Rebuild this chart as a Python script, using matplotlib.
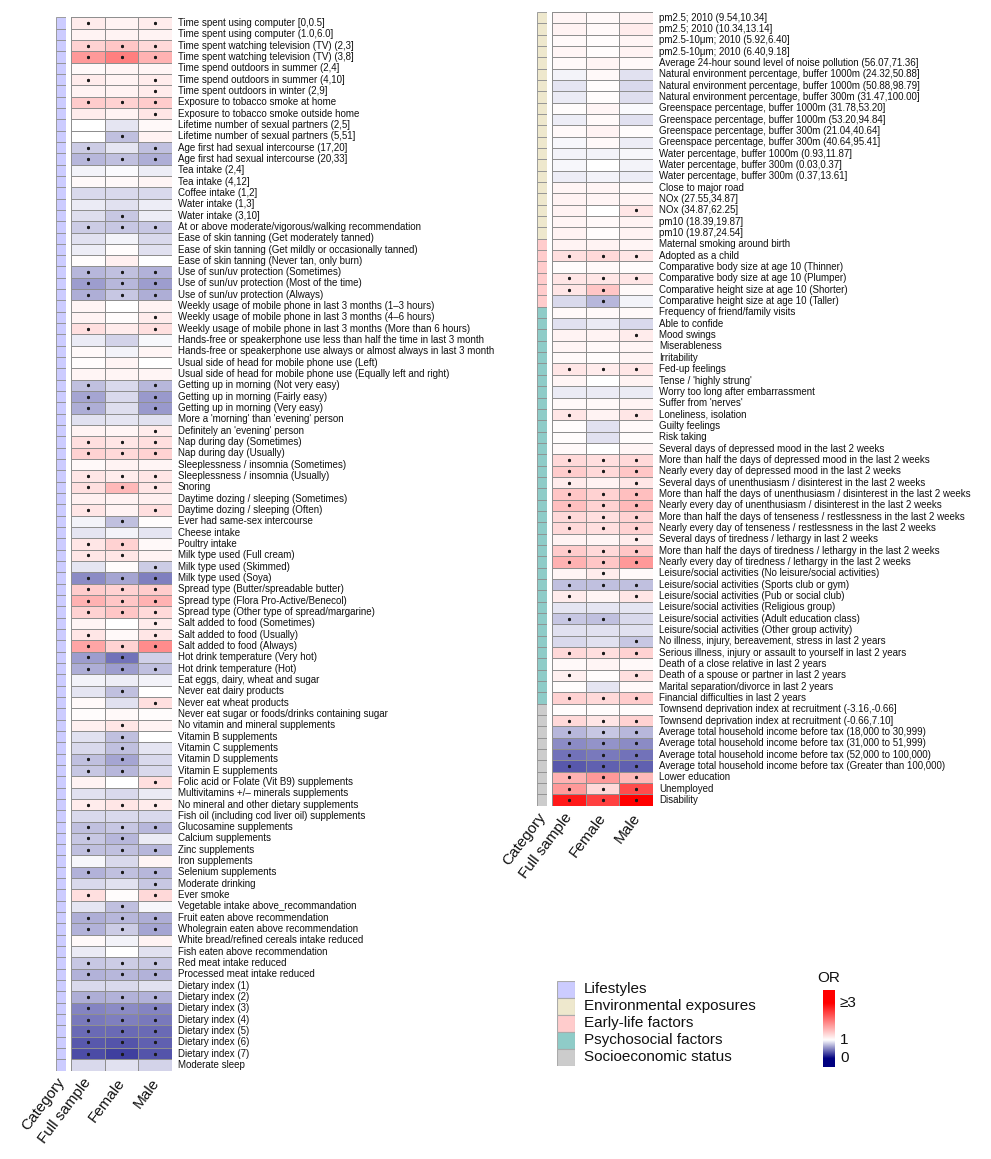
import numpy as np
import matplotlib
matplotlib.use("Agg")
import matplotlib.pyplot as plt
from matplotlib.colors import LinearSegmentedColormap, Normalize
from matplotlib.patches import Rectangle
import matplotlib.transforms as mtransforms

plt.rcParams['font.family'] = ['Liberation Sans', 'DejaVu Sans']

# ---------------- data: Lifestyles panel ----------------
life_labels = [
    "Time spent using computer [0,0.5]",
    "Time spent using computer (1.0,6.0]",
    "Time spent watching television (TV) (2,3]",
    "Time spent watching television (TV) (3,8]",
    "Time spend outdoors in summer (2,4]",
    "Time spend outdoors in summer (4,10]",
    "Time spent outdoors in winter (2,9]",
    "Exposure to tobacco smoke at home",
    "Exposure to tobacco smoke outside home",
    "Lifetime number of sexual partners (2,5]",
    "Lifetime number of sexual partners (5,51]",
    "Age first had sexual intercourse (17,20]",
    "Age first had sexual intercourse (20,33]",
    "Tea intake (2,4]",
    "Tea intake (4,12]",
    "Coffee intake (1,2]",
    "Water intake (1,3]",
    "Water intake (3,10]",
    "At or above moderate/vigorous/walking recommendation",
    "Ease of skin tanning (Get moderately tanned)",
    "Ease of skin tanning (Get mildly or occasionally tanned)",
    "Ease of skin tanning (Never tan, only burn)",
    "Use of sun/uv protection (Sometimes)",
    "Use of sun/uv protection (Most of the time)",
    "Use of sun/uv protection (Always)",
    "Weekly usage of mobile phone in last 3 months (1\u20133 hours)",
    "Weekly usage of mobile phone in last 3 months (4\u20136 hours)",
    "Weekly usage of mobile phone in last 3 months (More than 6 hours)",
    "Hands-free or speakerphone use less than half the time in last 3 month",
    "Hands-free or speakerphone use always or almost always in last 3 month",
    "Usual side of head for mobile phone use (Left)",
    "Usual side of head for mobile phone use (Equally left and right)",
    "Getting up in morning (Not very easy)",
    "Getting up in morning (Fairly easy)",
    "Getting up in morning (Very easy)",
    "More a 'morning' than 'evening' person",
    "Definitely an 'evening' person",
    "Nap during day (Sometimes)",
    "Nap during day (Usually)",
    "Sleeplessness / insomnia (Sometimes)",
    "Sleeplessness / insomnia (Usually)",
    "Snoring",
    "Daytime dozing / sleeping (Sometimes)",
    "Daytime dozing / sleeping (Often)",
    "Ever had same-sex intercourse",
    "Cheese intake",
    "Poultry intake",
    "Milk type used (Full cream)",
    "Milk type used (Skimmed)",
    "Milk type used (Soya)",
    "Spread type (Butter/spreadable butter)",
    "Spread type (Flora Pro-Active/Benecol)",
    "Spread type (Other type of spread/margarine)",
    "Salt added to food (Sometimes)",
    "Salt added to food (Usually)",
    "Salt added to food (Always)",
    "Hot drink temperature (Very hot)",
    "Hot drink temperature (Hot)",
    "Eat eggs, dairy, wheat and sugar",
    "Never eat dairy products",
    "Never eat wheat products",
    "Never eat sugar or foods/drinks containing sugar",
    "No vitamin and mineral supplements",
    "Vitamin B supplements",
    "Vitamin C supplements",
    "Vitamin D supplements",
    "Vitamin E supplements",
    "Folic acid or Folate (Vit B9) supplements",
    "Multivitamins +/\u2013 minerals supplements",
    "No mineral and other dietary supplements",
    "Fish oil (including cod liver oil) supplements",
    "Glucosamine supplements",
    "Calcium supplements",
    "Zinc supplements",
    "Iron supplements",
    "Selenium supplements",
    "Moderate drinking",
    "Ever smoke",
    "Vegetable intake above_recommandation",
    "Fruit eaten above recommendation",
    "Wholegrain eaten above recommendation",
    "White bread/refined cereals intake reduced",
    "Fish eaten above recommendation",
    "Red meat intake reduced",
    "Processed meat intake reduced",
    "Dietary index (1)",
    "Dietary index (2)",
    "Dietary index (3)",
    "Dietary index (4)",
    "Dietary index (5)",
    "Dietary index (6)",
    "Dietary index (7)",
    "Moderate sleep",
]
life_full = [1.15, 1.10, 1.35, 1.80, 1.05, 1.15, 1.10, 1.40, 1.15, 1.00,
             1.00, 0.80, 0.72, 0.95, 1.05, 0.85, 0.92, 0.87, 0.80, 0.88,
             0.93, 1.03, 0.72, 0.62, 0.68, 1.08, 1.10, 1.25, 0.92, 1.05,
             1.03, 1.08, 0.75, 0.65, 0.68, 0.88, 1.10, 1.25, 1.35, 1.05,
             1.20, 1.25, 1.12, 1.20, 0.95, 0.90, 1.20, 1.20, 0.90, 0.55,
             1.40, 1.60, 1.35, 1.08, 1.20, 1.70, 0.62, 0.68, 0.95, 0.90,
             1.05, 1.03, 1.12, 0.88, 0.85, 0.75, 0.78, 1.10, 0.88, 1.15,
             0.85, 0.75, 0.78, 0.75, 0.97, 0.70, 0.85, 1.25, 0.90, 0.68,
             0.70, 1.05, 0.92, 0.78, 0.70, 0.85, 0.68, 0.52, 0.48, 0.42,
             0.35, 0.30, 0.85]
life_female = [1.10, 1.10, 1.45, 2.00, 1.08, 1.10, 1.10, 1.35, 1.10, 0.90,
               0.75, 0.90, 0.75, 0.98, 1.05, 0.85, 0.88, 0.78, 0.78, 0.95,
               1.03, 1.12, 0.75, 0.72, 0.78, 1.00, 1.03, 1.15, 0.83, 0.95,
               1.08, 1.08, 0.85, 0.85, 0.87, 0.90, 1.08, 1.20, 1.30, 1.10,
               1.15, 1.55, 1.10, 1.10, 0.75, 0.95, 1.35, 1.20, 1.02, 0.65,
               1.35, 1.45, 1.45, 1.00, 1.05, 1.35, 0.45, 0.62, 0.93, 0.75,
               0.88, 1.05, 1.20, 0.75, 0.75, 0.65, 0.72, 1.00, 0.85, 1.20,
               0.85, 0.78, 0.72, 0.75, 0.85, 0.75, 0.88, 1.03, 0.75, 0.72,
               0.80, 0.95, 1.00, 0.80, 0.72, 0.85, 0.70, 0.55, 0.50, 0.42,
               0.33, 0.25, 0.88]
life_male = [1.15, 1.10, 1.30, 1.60, 1.08, 1.15, 1.15, 1.40, 1.20, 1.05,
             1.10, 0.75, 0.68, 0.93, 1.08, 0.85, 0.93, 0.93, 0.78, 0.85,
             0.88, 1.00, 0.70, 0.62, 0.68, 1.10, 1.15, 1.25, 0.97, 1.08,
             1.00, 1.08, 0.72, 0.60, 0.60, 0.88, 1.15, 1.25, 1.35, 1.08,
             1.20, 1.20, 1.12, 1.25, 1.03, 0.90, 1.05, 1.10, 0.80, 0.50,
             1.40, 1.60, 1.30, 1.15, 1.20, 1.90, 0.82, 0.75, 0.95, 1.00,
             1.25, 1.03, 1.10, 1.00, 0.90, 0.85, 0.85, 1.25, 0.92, 1.15,
             0.85, 0.72, 0.92, 0.72, 1.08, 0.72, 0.78, 1.30, 0.97, 0.68,
             0.65, 1.10, 0.88, 0.78, 0.70, 0.88, 0.70, 0.52, 0.48, 0.42,
             0.38, 0.33, 0.83]
life_sig = ["101", "000", "111", "111", "000", "101", "001", "111", "001", "000",
            "010", "101", "111", "000", "000", "000", "000", "010", "111", "000",
            "000", "000", "111", "111", "111", "000", "001", "101", "000", "000",
            "000", "000", "101", "101", "101", "000", "001", "111", "111", "000",
            "111", "111", "000", "101", "010", "000", "110", "110", "001", "111",
            "111", "111", "111", "001", "101", "111", "110", "111", "000", "010",
            "001", "000", "010", "010", "010", "110", "110", "001", "000", "111",
            "000", "111", "110", "111", "000", "111", "001", "101", "010", "111",
            "111", "000", "000", "111", "111", "000", "111", "111", "111", "111",
            "111", "111", "000"]
life_cat = ["Lifestyles"] * len(life_labels)

# ---------------- data: other categories panel ----------------
other_labels = [
    "pm2.5; 2010 (9.54,10.34]",
    "pm2.5; 2010 (10.34,13.14]",
    "pm2.5-10\u03bcm; 2010 (5.92,6.40]",
    "pm2.5-10\u03bcm; 2010 (6.40,9.18]",
    "Average 24-hour sound level of noise pollution (56.07,71.36]",
    "Natural environment percentage, buffer 1000m (24.32,50.88]",
    "Natural environment percentage, buffer 1000m (50.88,98.79]",
    "Natural environment percentage, buffer 300m (31.47,100.00]",
    "Greenspace percentage, buffer 1000m (31.78,53.20]",
    "Greenspace percentage, buffer 1000m (53.20,94.84]",
    "Greenspace percentage, buffer 300m (21.04,40.64]",
    "Greenspace percentage, buffer 300m (40.64,95.41]",
    "Water percentage, buffer 1000m (0.93,11.87]",
    "Water percentage, buffer 300m (0.03,0.37]",
    "Water percentage, buffer 300m (0.37,13.61]",
    "Close to major road",
    "NOx (27.55,34.87]",
    "NOx (34.87,62.25]",
    "pm10 (18.39,19.87]",
    "pm10 (19.87,24.54]",
    "Maternal smoking around birth",
    "Adopted as a child",
    "Comparative body size at age 10 (Thinner)",
    "Comparative body size at age 10 (Plumper)",
    "Comparative height size at age 10 (Shorter)",
    "Comparative height size at age 10 (Taller)",
    "Frequency of friend/family visits",
    "Able to confide",
    "Mood swings",
    "Miserableness",
    "Irritability",
    "Fed-up feelings",
    "Tense / 'highly strung'",
    "Worry too long after embarrassment",
    "Suffer from 'nerves'",
    "Loneliness, isolation",
    "Guilty feelings",
    "Risk taking",
    "Several days of depressed mood in the last 2 weeks",
    "More than half the days of depressed mood in the last 2 weeks",
    "Nearly every day of depressed mood in the last 2 weeks",
    "Several days of unenthusiasm / disinterest in the last 2 weeks",
    "More than half the days of unenthusiasm / disinterest in the last 2 weeks",
    "Nearly every day of unenthusiasm / disinterest in the last 2 weeks",
    "More than half the days of tenseness / restlessness in the last 2 weeks",
    "Nearly every day of tenseness / restlessness in the last 2 weeks",
    "Several days of tiredness / lethargy in last 2 weeks",
    "More than half the days of tiredness / lethargy in the last 2 weeks",
    "Nearly every day of tiredness / lethargy in the last 2 weeks",
    "Leisure/social activities (No leisure/social activities)",
    "Leisure/social activities (Sports club or gym)",
    "Leisure/social activities (Pub or social club)",
    "Leisure/social activities (Religious group)",
    "Leisure/social activities (Adult education class)",
    "Leisure/social activities (Other group activity)",
    "No illness, injury, bereavement, stress in last 2 years",
    "Serious illness, injury or assault to yourself in last 2 years",
    "Death of a close relative in last 2 years",
    "Death of a spouse or partner in last 2 years",
    "Marital separation/divorce in last 2 years",
    "Financial difficulties in last 2 years",
    "Townsend deprivation index at recruitment (-3.16,-0.66]",
    "Townsend deprivation index at recruitment (-0.66,7.10]",
    "Average total household income before tax (18,000 to 30,999)",
    "Average total household income before tax (31,000 to 51,999)",
    "Average total household income before tax (52,000 to 100,000)",
    "Average total household income before tax (Greater than 100,000)",
    "Lower education",
    "Unemployed",
    "Disability",
]
other_full = [1.08, 1.10, 1.05, 1.08, 1.05, 0.95, 0.90, 0.92, 1.02, 0.93,
              1.05, 0.97, 0.95, 0.97, 0.93, 1.08, 1.10, 1.10, 1.08, 1.10,
              1.10, 1.25, 1.03, 1.20, 1.20, 0.85, 1.05, 0.88, 1.10, 1.08,
              1.05, 1.20, 1.08, 0.92, 1.05, 1.20, 1.02, 1.02, 1.05, 1.30,
              1.40, 1.15, 1.45, 1.50, 1.30, 1.30, 1.10, 1.40, 1.60, 1.08,
              0.75, 1.15, 0.90, 0.78, 0.88, 0.85, 1.30, 1.05, 1.12, 1.02,
              1.35, 1.03, 1.30, 0.72, 0.55, 0.45, 0.35, 1.60, 1.80, 2.80]
other_female = [1.05, 1.05, 1.03, 1.03, 1.08, 1.05, 1.02, 1.03, 1.08, 1.05,
                1.10, 1.05, 0.95, 1.00, 0.95, 1.08, 1.08, 1.00, 1.05, 1.03,
                1.10, 1.30, 1.05, 1.20, 1.45, 0.72, 1.05, 0.92, 1.10, 1.05,
                1.03, 1.15, 1.00, 0.92, 1.05, 1.10, 0.88, 0.88, 1.00, 1.25,
                1.30, 1.10, 1.35, 1.35, 1.25, 1.25, 1.08, 1.30, 1.45, 1.15,
                0.75, 1.08, 0.90, 0.75, 0.88, 0.88, 1.25, 1.08, 1.03, 0.90,
                1.30, 1.03, 1.20, 0.78, 0.58, 0.48, 0.38, 1.80, 1.30, 2.50]
other_male = [1.10, 1.15, 1.08, 1.10, 1.05, 0.88, 0.85, 0.87, 0.98, 0.88,
              1.03, 0.93, 0.97, 0.95, 0.93, 1.05, 1.10, 1.20, 1.10, 1.10,
              1.08, 1.20, 1.03, 1.20, 1.05, 0.95, 1.05, 0.85, 1.15, 1.08,
              1.08, 1.20, 1.10, 0.92, 1.08, 1.20, 1.05, 1.03, 1.08, 1.30,
              1.45, 1.20, 1.50, 1.55, 1.35, 1.35, 1.15, 1.45, 1.80, 1.05,
              0.75, 1.20, 0.90, 0.85, 0.88, 0.78, 1.35, 1.05, 1.25, 1.05,
              1.40, 1.03, 1.35, 0.72, 0.55, 0.45, 0.38, 1.55, 2.40, 3.00]
other_sig = ["000", "000", "000", "000", "000", "000", "000", "000", "000", "000",
             "000", "000", "000", "000", "000", "000", "000", "001", "000", "000",
             "000", "111", "000", "111", "110", "010", "000", "000", "001", "000",
             "000", "111", "000", "000", "000", "101", "000", "000", "000", "111",
             "111", "101", "111", "111", "111", "111", "001", "111", "111", "010",
             "111", "101", "000", "110", "000", "001", "111", "000", "101", "000",
             "111", "000", "111", "111", "111", "111", "111", "111", "111", "111"]
other_cat = (["Environmental exposures"] * 20 + ["Early-life factors"] * 6 +
             ["Psychosocial factors"] * 35 + ["Socioeconomic status"] * 9)

columns = ["Full sample", "Female", "Male"]
category_names = ["Lifestyles", "Environmental exposures", "Early-life factors",
                  "Psychosocial factors", "Socioeconomic status"]
category_colors = ["#CCCCFF", "#EEE8CD", "#FFCCCC", "#8FCCC8", "#CCCCCC"]
legend_ticks = [0, 1, 3]
legend_ticklabels = ["0", "1", "\u22653"]

# ---------------- colormap navy - white - red (OR 0, 1, 3) ----------------
cmap = LinearSegmentedColormap.from_list(
    "or", [(0.0, "#000080"), (1 / 3, "#FFFFFF"), (1.0, "#FF0000")], N=512)
norm = Normalize(0, 3, clip=True)

# ---------------- figure ----------------
W, H = 991, 1159
fig = plt.figure(figsize=(W / 100, H / 100), dpi=100)

def px_axes(x0, y0, x1, y1):
    return fig.add_axes([x0 / W, 1 - y1 / H, (x1 - x0) / W, (y1 - y0) / H])

EDGE = "#8f8f8f"

def draw_panel(cx0, cx1, hx0, hx1, y0, y1, labels, full, female, male, sig, cats):
    n = len(labels)
    data = np.column_stack([full, female, male])
    # category column
    axc = px_axes(cx0, y0, cx1, y1)
    cmap_cat = {k: c for k, c in zip(category_names, category_colors)}
    for i, c in enumerate(cats):
        axc.add_patch(Rectangle((0, i), 1, 1, facecolor=cmap_cat[c], edgecolor=EDGE, lw=0.6))
    axc.set_xlim(0, 1)
    axc.set_ylim(n, 0)
    axc.axis("off")
    # heatmap
    ax = px_axes(hx0, y0, hx1, y1)
    ax.pcolormesh(np.arange(4), np.arange(n + 1), data, cmap=cmap, norm=norm,
                  edgecolors=EDGE, linewidth=0.6)
    ax.set_xlim(0, 3)
    ax.set_ylim(n, 0)
    ax.axis("off")
    sx, sy = [], []
    for i, s in enumerate(sig):
        for j, ch in enumerate(s):
            if ch == "1":
                sx.append(j + 0.5)
                sy.append(i + 0.5)
    ax.plot(sx, sy, ls="none", marker=(6, 2, 0), ms=2.3, mew=0.55, color="#1a1a1a")
    trans = mtransforms.blended_transform_factory(ax.transAxes, ax.transData)
    off = mtransforms.offset_copy(trans, fig=fig, x=5.5, y=0, units="dots")
    for i, lab in enumerate(labels):
        ax.text(1.0, i + 0.5, lab, transform=off, fontsize=7, ha="left", va="center",
                color="#111111")
    # column labels
    centers = [(cx0 + cx1) / 2] + [hx0 + (hx1 - hx0) * (k + 0.5) / 3 for k in range(3)]
    for xc, name in zip(centers, ["Category"] + columns):
        fig.text((xc + 1) / W, 1 - (y1 + 9) / H, name, rotation=53, rotation_mode="anchor",
                 ha="right", va="center", fontsize=11, color="#111111")

draw_panel(56, 66, 70.7, 172.3, 17.3, 1070.7, life_labels, life_full, life_female,
           life_male, life_sig, life_cat)
draw_panel(537.3, 547.3, 551.7, 653.3, 12.0, 805.7, other_labels, other_full,
           other_female, other_male, other_sig, other_cat)

# ---------------- category legend ----------------
axl = px_axes(557.3, 980.7, 575, 1066)
for i, c in enumerate(category_colors):
    axl.add_patch(Rectangle((0, i), 1, 1, facecolor=c, edgecolor="#aaaaaa", lw=0.8))
axl.set_xlim(0, 1)
axl.set_ylim(len(category_colors), 0)
axl.axis("off")
for i, name in enumerate(category_names):
    fig.text(584 / W, 1 - (980.7 + (i + 0.5) * 17.06) / H, name, fontsize=11,
             ha="left", va="center", color="#111111")

# ---------------- OR colour bar ----------------
axb = px_axes(823.3, 990, 835, 1067)
lo, hi = -0.46, 3.7
grad = np.linspace(lo, hi, 300)[:, None]
axb.imshow(grad, cmap=cmap, norm=norm, aspect="auto", origin="lower",
           extent=[0, 1, lo, hi])
axb.set_xlim(0, 1)
axb.set_ylim(lo, hi)
axb.axis("off")
for t, lab in zip(legend_ticks, legend_ticklabels):
    axb.text(1.0, t, lab, transform=mtransforms.offset_copy(
        mtransforms.blended_transform_factory(axb.transAxes, axb.transData),
        fig=fig, x=5, y=0, units="dots"), fontsize=11, ha="left", va="center",
        color="#111111")
fig.text(829 / W, 1 - 978 / H, "OR", fontsize=11, ha="center", va="center", color="#111111")

fig.savefig("out.png", dpi=100)
